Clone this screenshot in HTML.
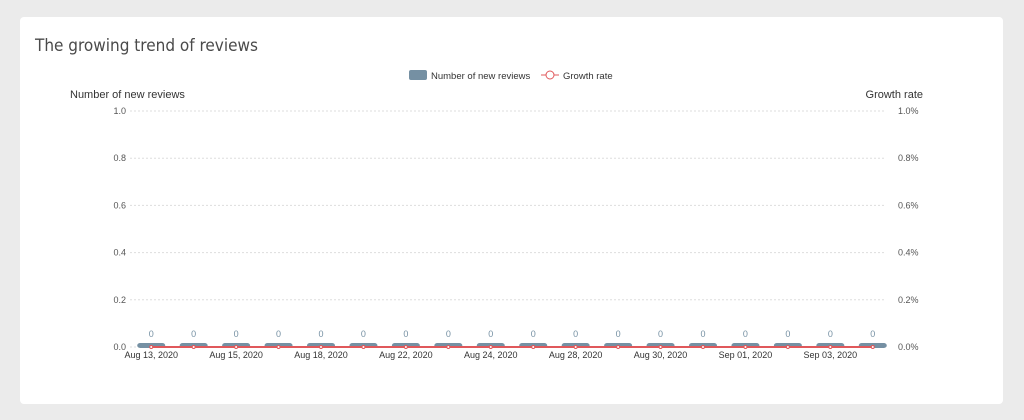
<!DOCTYPE html>
<html><head><meta charset="utf-8"><style>
body{margin:0;background:#ebebeb;width:1024px;height:420px;overflow:hidden;font-family:"Liberation Sans",sans-serif}
#card{position:absolute;left:20px;top:17px;width:983px;height:387px;background:#fff;border-radius:4px}
#title{position:absolute;left:35px;top:36px;font-size:17px;color:#4a4a4a;font-family:"DejaVu Sans Condensed","Liberation Sans Narrow","Liberation Sans",sans-serif;font-weight:300}
svg{position:absolute;left:0;top:0}
</style></head><body>
<div id="card"></div>
<div id="title">The growing trend of reviews</div>
<svg id="chart" width="1024" height="420"></svg>
<script>
const categories=["Aug 13, 2020","Aug 14, 2020","Aug 15, 2020","Aug 17, 2020","Aug 18, 2020","Aug 20, 2020","Aug 22, 2020","Aug 23, 2020","Aug 24, 2020","Aug 26, 2020","Aug 28, 2020","Aug 29, 2020","Aug 30, 2020","Aug 31, 2020","Sep 01, 2020","Sep 02, 2020","Sep 03, 2020","Sep 04, 2020"];
const reviews=[0,0,0,0,0,0,0,0,0,0,0,0,0,0,0,0,0,0];
const growth=[0,0,0,0,0,0,0,0,0,0,0,0,0,0,0,0,0,0];
const leftTicks=["0.0","0.2","0.4","0.6","0.8","1.0"];
const rightTicks=["0.0%","0.2%","0.4%","0.6%","0.8%","1.0%"];
const tickVals=[0,0.2,0.4,0.6,0.8,1];
const NS="http://www.w3.org/2000/svg",svg=document.getElementById('chart');
const x0=130,x1=894,y0=347,y1=111,bw=(x1-x0)/categories.length;
const xc=i=>x0+bw*(i+0.5), yL=v=>y0-(y0-y1)*v, yR=v=>y0-(y0-y1)*(v/1);
function mk(t,a,txt){const e=document.createElementNS(NS,t);for(const k in a)e.setAttribute(k,a[k]);if(txt!=null)e.textContent=txt;svg.appendChild(e);return e;}
tickVals.forEach((v,i)=>{
 const g=mk('line',{x1:x0,x2:x1-8,y1:yL(v),y2:yL(v),stroke:'#ddd','stroke-dasharray':'2,2'});
 
 
 const l=mk('text',{x:126,y:yL(v)+3,'text-anchor':'end','font-size':9,fill:'#555'},leftTicks[i]);
 
 
 const r=mk('text',{x:898,y:yL(v)+3,'font-size':9,fill:'#555'},rightTicks[i]);
 
 
});
const t1=mk('text',{x:70,y:98,'font-size':11,fill:'#333'},'Number of new reviews');


const t2=mk('text',{x:923,y:98,'text-anchor':'end','font-size':11,fill:'#333'},'Growth rate');


reviews.forEach((v,i)=>{
 const h=Math.max(yL(0)-yL(v),4),cx=xc(i);
 const b=mk('rect',{x:cx-14,y:yL(0)-h,width:28,height:h+1,rx:3,fill:'#7590a3'});
 
 
 const l=mk('text',{x:cx,y:yL(0)-h-6,'text-anchor':'middle','font-size':9,fill:'#7590a3'},String(v));
 
 
});
const pts=growth.map((v,i)=>xc(i)+','+yR(v)).join(' ');
const line=mk('polyline',{points:pts,fill:'none',stroke:'#e0585b','stroke-width':2});


growth.forEach((v,i)=>{
 const p=mk('circle',{cx:xc(i),cy:yR(v),r:1.5,fill:'#fff',stroke:'#e0585b','stroke-width':1});
 
 
});
categories.forEach((c,i)=>{if(i%2)return;
 const t=mk('text',{x:xc(i),y:358,'text-anchor':'middle','font-size':9,fill:'#333'},c);
 
 
});
const lg1=mk('rect',{x:409,y:70,width:18,height:10,rx:2,fill:'#7590a3'});


const lt1=mk('text',{x:431,y:79,'font-size':9.5,fill:'#333'},'Number of new reviews');


const ll=mk('line',{x1:541,x2:559,y1:75,y2:75,stroke:'#e0585b','stroke-width':1});


const lc=mk('circle',{cx:550,cy:75,r:4,fill:'#fff',stroke:'#e0585b'});


const lt2=mk('text',{x:563,y:79,'font-size':9.5,fill:'#333'},'Growth rate');


</script>
</body></html>
